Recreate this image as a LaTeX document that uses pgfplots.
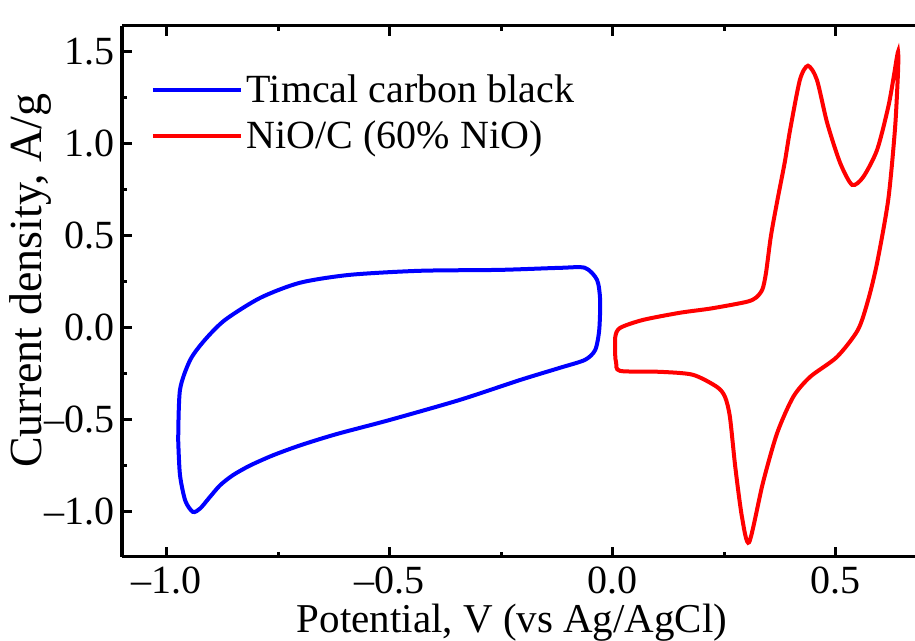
\documentclass[border=0pt]{standalone}
\usepackage{fontspec}
\setmainfont{Liberation Serif}
\usepackage{pgfplots}
\pgfplotsset{compat=1.18}

\pgfplotsset{cv style/.style={
  scale only axis, width=396.5pt, height=265.5pt,
  xmin=-1.1, xmax=0.678, ymin=-1.245, ymax=1.64,
  axis x line=box, axis y line*=left,
  axis line style={line width=1.5pt},
  xtick={-1,-0.5,0,0.5}, xticklabels={–1.0,–0.5,0.0,0.5},
  ytick={-1,-0.5,0,0.5,1,1.5}, yticklabels={–1.0,–0.5,0.0,0.5,1.0,1.5},
  minor tick num=1,
  major tick length=5pt, minor tick length=2.5pt,
  every tick/.style={line width=1.5pt, black},
  tick align=inside,
  ticklabel style={font=\rmfamily\fontsize{20}{24}\selectfont},
  xticklabel style={anchor=base, yshift=-18.5pt},
  xlabel style={font=\rmfamily\fontsize{20.5}{24}\selectfont,
    at={(rel axis cs:0.492,0)}, anchor=base, yshift=-38pt},
  ylabel style={font=\rmfamily\fontsize{23}{27}\selectfont,
    at={(rel axis cs:0,0.52)}, anchor=center, yshift=45.5pt},
  legend style={draw=none, fill=none, font=\rmfamily\fontsize{20}{24}\selectfont,
    at={(rel axis cs:0.036,0.916)}, anchor=north west,
    inner sep=0pt, row sep=3.5pt, cells={anchor=west}},
  legend image code/.code={\draw[#1, line width=2pt] (0pt,0pt) -- (44pt,0pt);},
}}

\begin{document}
\begin{tikzpicture}
\begin{axis}[cv style,
  xlabel={Potential, V (vs Ag/AgCl)},
  ylabel={Current density, A/g}]

% Timcal carbon black
\addplot[blue, line width=2pt, smooth, tension=0.45] coordinates {
(-0.974,-0.61)(-0.970,-0.337)(-0.947,-0.174)(-0.914,-0.065)(-0.869,0.043)
(-0.790,0.163)(-0.701,0.245)(-0.589,0.288)(-0.432,0.310)(-0.252,0.315)
(-0.118,0.326)(-0.062,0.326)(-0.035,0.261)(-0.028,0.152)(-0.030,-0.011)
(-0.039,-0.12)(-0.062,-0.174)(-0.118,-0.217)(-0.207,-0.283)(-0.342,-0.391)
(-0.499,-0.500)(-0.620,-0.578)(-0.700,-0.638)(-0.761,-0.692)(-0.813,-0.748)
(-0.851,-0.800)(-0.880,-0.855)(-0.905,-0.925)(-0.925,-0.982)
(-0.941,-1.0)(-0.958,-0.94)(-0.970,-0.80)(-0.974,-0.61)
};
\addlegendentry{Timcal carbon black}

% NiO/C (60% NiO)
\addplot[red, line width=2pt, smooth, tension=0.45] coordinates {
(0.006,-0.158)(0.006,-0.049)(0.017,0.0)(0.068,0.043)(0.151,0.082)
(0.22,0.105)(0.30,0.141)(0.322,0.165)(0.336,0.21)(0.344,0.30)(0.355,0.50)
(0.370,0.70)(0.386,0.90)(0.398,1.076)
(0.42,1.348)(0.438,1.424)(0.458,1.348)(0.481,1.114)(0.51,0.897)
(0.537,0.777)(0.562,0.82)(0.593,0.967)(0.618,1.20)(0.630,1.36)(0.636,1.45)
(0.640,1.50)(0.6405,1.44)(0.639,1.34)(0.633,1.076)(0.618,0.696)(0.593,0.353)
(0.573,0.152)(0.550,-0.011)
(0.503,-0.158)(0.443,-0.266)(0.405,-0.375)(0.369,-0.571)(0.337,-0.842)(0.306,-1.165)
(0.29,-1.027)(0.275,-0.755)(0.263,-0.484)(0.252,-0.375)(0.234,-0.321)
(0.18,-0.255)(0.107,-0.239)(0.017,-0.234)(0.008,-0.19)(0.006,-0.158)
};
\addlegendentry{NiO/C (60\% NiO)}
\end{axis}
\pgfresetboundingbox
\useasboundingbox ([xshift=-61pt,yshift=-42pt]current axis.south west)
  rectangle ([yshift=13pt]current axis.north east);
\end{tikzpicture}
\end{document}
